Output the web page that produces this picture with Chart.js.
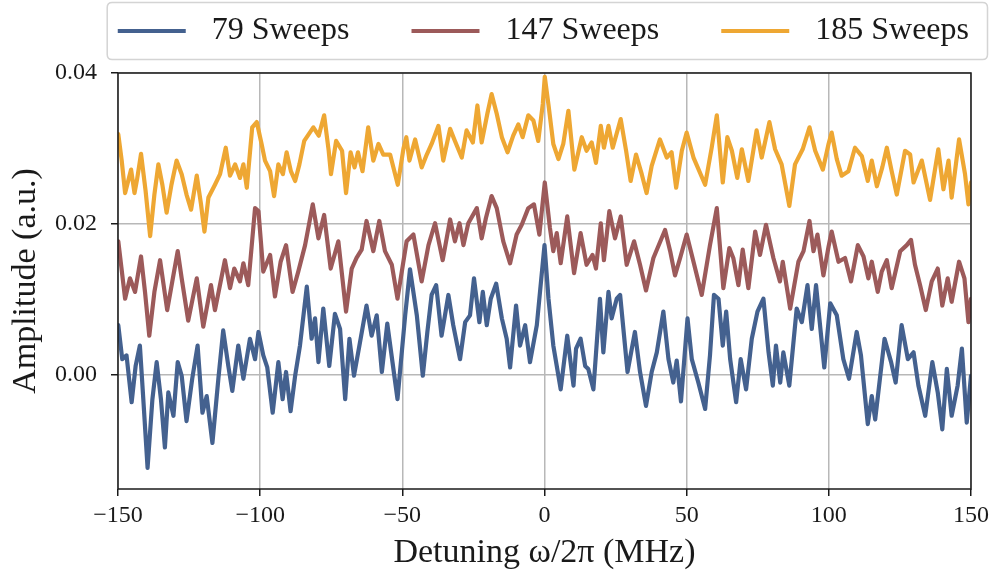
<!DOCTYPE html>
<html>
<head>
<meta charset="utf-8">
<script src="https://cdn.jsdelivr.net/npm/chart.js@4.4.1/dist/chart.umd.min.js"></script>
<style>
html,body{margin:0;padding:0;background:#ffffff;}
#wrap{width:996px;height:573px;position:relative;}
</style>
</head>
<body>
<div id="wrap"><canvas id="c"></canvas></div>
<script>
// ---------------- data ----------------
const SERIES_LABELS = ['79 Sweeps', '147 Sweeps', '185 Sweeps'];
const X_TICKS = [-150, -100, -50, 0, 50, 100, 150];
const Y_TICKS = [0.00, 0.02, 0.04];
const X_RANGE = [-150, 150];
const Y_RANGE = [-0.0151, 0.04];
const X_TITLE = 'Detuning ω/2π (MHz)';
const Y_TITLE = 'Amplitude (a.u.)';

const FREQ_79 = [
  -149.9,-148.5,-147.0,-145.2,-143.8,-142.3,-141.1,-139.6,-137.9,-136.4,-134.9,-133.5,-132.3,-130.5,-129.0,-127.6,-125.9,-123.9,-122.0,-120.3,-118.8,-116.8,-114.7,-113.0,-111.2,-109.8,-107.7,-105.9,-103.6,-101.8,-100.6,
  -98.9,-97.5,-95.6,-93.6,-92.1,-90.9,-89.3,-87.7,-86.0,-83.6,-81.9,-80.7,-79.5,-77.8,-75.7,-73.7,-71.9,-70.1,-68.6,-67.0,-65.1,-62.6,-60.8,-59.0,-57.2,-55.3,-51.7,-49.0,-47.3,
  -44.9,-42.8,-41.2,-39.7,-38.1,-36.2,-33.8,-32.1,-29.7,-27.9,-26.2,-24.8,-22.9,-21.7,-20.3,-18.9,-17.0,-15.0,-13.3,-12.1,-10.0,-8.6,-6.8,-5.1,-2.7,0.0,1.4,
  3.1,5.7,8.0,10.2,11.1,12.7,14.3,15.4,17.2,19.5,20.7,22.5,23.6,25.4,26.6,29.2,31.8,33.6,35.7,37.7,39.5,41.8,43.6,45.3,46.5,48.0,
  50.3,51.8,54.1,56.5,58.2,59.6,61.2,62.7,63.9,65.3,67.4,69.0,70.9,72.9,74.9,77.0,78.8,80.3,81.4,82.9,84.0,86.1,88.7,90.5,92.5,94.0,95.5,98.4,100.5,
  102.8,105.1,107.1,109.8,111.3,113.7,115.1,116.3,119.6,121.9,123.5,125.6,127.8,129.8,131.5,133.9,136.4,138.3,139.9,141.5,143.2,145.3,146.8,148.5,150.0
];
const AMP_79 = [
  0.0066,0.0021,0.0026,-0.0036,0.0012,0.0039,-0.0032,-0.0123,-0.0032,0.0017,-0.0032,-0.0096,-0.0023,-0.0054,0.0017,-0.0001,-0.0061,-0.0005,0.0039,-0.0050,-0.0028,-0.0090,-0.0005,0.0059,0.0012,-0.0021,0.0039,-0.0005,0.0048,0.0021,0.0057,
  0.0026,0.0010,-0.0050,0.0017,-0.0032,0.0004,-0.0048,-0.0001,0.0039,0.0117,0.0048,0.0075,0.0017,0.0088,0.0012,0.0081,0.0061,-0.0032,0.0048,-0.0001,0.0039,0.0092,0.0052,0.0079,0.0004,0.0068,-0.0032,0.0079,0.0140,
  0.0079,-0.0001,0.0057,0.0106,0.0119,0.0052,0.0106,0.0066,0.0021,0.0070,0.0079,0.0128,0.0070,0.0110,0.0066,0.0101,0.0121,0.0075,0.0048,0.0010,0.0092,0.0039,0.0066,0.0017,0.0066,0.0172,0.0101,
  0.0039,-0.0019,0.0052,-0.0014,0.0035,0.0048,0.0012,0.0008,-0.0019,0.0101,0.0030,0.0110,0.0075,0.0101,0.0106,0.0004,0.0057,0.0004,-0.0041,0.0004,0.0030,0.0084,0.0021,-0.0010,0.0019,-0.0035,
  0.0075,0.0021,-0.0010,-0.0045,0.0026,0.0106,0.0101,0.0039,0.0084,0.0021,-0.0036,0.0021,-0.0019,0.0048,0.0084,0.0101,0.0030,-0.0014,0.0039,-0.0010,0.0030,-0.0014,0.0088,0.0070,0.0119,0.0061,0.0119,0.0010,0.0095,
  0.0079,0.0021,-0.0005,0.0057,0.0026,-0.0065,-0.0028,-0.0059,0.0048,0.0017,-0.0010,0.0066,0.0021,0.0030,-0.0014,-0.0054,0.0017,-0.0023,-0.0072,0.0008,-0.0054,-0.0014,0.0035,-0.0063,-0.0001
];

const FREQ_147 = [
  -149.9,-147.5,-145.8,-144.0,-141.9,-140.5,-139.0,-137.2,-135.2,-132.7,-130.9,-129.0,-127.6,-125.3,-122.3,-120.0,-117.3,-115.9,-112.4,-110.6,-109.1,-107.1,-105.9,-104.2,-101.8,-100.6,-98.9,
  -96.5,-94.8,-92.8,-90.9,-88.6,-86.6,-84.2,-81.5,-79.5,-77.5,-75.2,-72.5,-69.8,-67.8,-66.1,-64.3,-62.6,-60.2,-58.1,-56.1,-53.7,-51.7,-48.5,
  -46.1,-43.2,-40.8,-38.5,-35.8,-33.2,-31.5,-29.9,-28.5,-26.8,-23.8,-22.1,-20.6,-18.6,-16.8,-14.5,-12.1,-9.8,-8.0,-5.7,-3.7,-1.8,0.1,
  1.9,3.1,4.3,5.7,8.0,10.4,12.7,14.8,16.9,18.1,19.8,20.9,22.8,24.8,26.8,28.9,31.5,33.6,35.7,38.3,42.4,44.2,45.9,47.7,50.0,
  52.4,55.3,58.2,60.6,62.9,65.0,66.4,68.2,69.7,71.7,74.1,75.8,77.9,80.5,82.8,83.8,86.4,89.3,91.1,93.2,94.6,96.0,98.1,99.9,
  101.0,103.4,105.7,107.8,110.2,112.2,113.9,115.1,117.2,118.6,120.4,122.1,125.1,127.4,128.9,130.3,132.1,134.1,136.2,138.3,139.9,141.8,143.2,145.8,147.7,149.1,150.0
];
const AMP_147 = [
  0.0177,0.0101,0.0128,0.0110,0.0157,0.0110,0.0052,0.0110,0.0152,0.0086,0.0124,0.0164,0.0128,0.0072,0.0128,0.0064,0.0119,0.0086,0.0152,0.0115,0.0141,0.0124,0.0148,0.0119,0.0221,0.0217,0.0137,
  0.0159,0.0104,0.0150,0.0172,0.0110,0.0137,0.0172,0.0226,0.0181,0.0212,0.0141,0.0177,0.0084,0.0141,0.0155,0.0166,0.0204,0.0164,0.0204,0.0164,0.0146,0.0101,0.0177,
  0.0186,0.0124,0.0172,0.0201,0.0152,0.0206,0.0177,0.0201,0.0172,0.0201,0.0221,0.0181,0.0208,0.0237,0.0221,0.0177,0.0148,0.0186,0.0199,0.0221,0.0226,0.0186,0.0255,
  0.0195,0.0164,0.0188,0.0148,0.0210,0.0135,0.0188,0.0146,0.0159,0.0141,0.0201,0.0152,0.0217,0.0181,0.0210,0.0146,0.0177,0.0146,0.0112,0.0155,0.0192,0.0164,0.0132,0.0155,0.0186,
  0.0150,0.0106,0.0172,0.0221,0.0115,0.0168,0.0155,0.0119,0.0166,0.0115,0.0190,0.0159,0.0199,0.0155,0.0124,0.0150,0.0088,0.0150,0.0164,0.0204,0.0164,0.0186,0.0132,0.0170,
  0.0190,0.0150,0.0155,0.0124,0.0172,0.0157,0.0128,0.0150,0.0110,0.0137,0.0152,0.0115,0.0164,0.0172,0.0179,0.0146,0.0119,0.0086,0.0124,0.0141,0.0092,0.0128,0.0097,0.0150,0.0128,0.0070,0.0101
];

const FREQ_185 = [
  -149.9,-148.7,-147.5,-145.4,-144.2,-143.3,-141.9,-140.3,-138.7,-137.2,-135.8,-134.4,-132.9,-131.2,-129.4,-127.6,-125.9,-124.3,-122.3,-120.8,-119.6,-118.2,-115.9,-114.1,-112.1,-110.6,-108.8,-107.1,-105.9,-104.7,-102.8,-101.2,-99.5,
  -98.3,-96.5,-95.1,-93.6,-92.0,-90.7,-89.2,-87.7,-86.2,-84.5,-81.3,-79.4,-77.5,-75.9,-75.1,-73.3,-71.2,-69.8,-68.2,-66.8,-65.6,-64.0,-62.0,-60.2,-58.4,-56.7,-54.3,-51.6,-49.6,-48.6,
  -47.5,-45.5,-43.2,-41.4,-39.7,-37.3,-35.6,-33.2,-31.5,-29.1,-27.4,-25.2,-23.6,-22.1,-20.1,-18.6,-16.8,-15.0,-13.0,-11.0,-9.2,-7.7,-5.7,-3.9,-2.2,-0.6,0.1,1.4,
  3.1,4.9,6.6,8.4,10.5,13.1,14.8,16.6,18.1,19.8,20.9,22.5,24.0,26.8,28.7,30.3,32.2,34.2,35.9,37.7,40.6,43.0,44.7,46.3,48.3,50.0,
  52.4,56.5,58.8,60.6,62.7,64.3,65.9,67.8,69.4,71.7,74.6,76.4,79.1,81.1,83.4,86.1,88.1,90.8,93.2,95.2,97.9,99.9,
  101.0,102.8,104.5,106.9,109.2,111.6,113.7,115.1,116.9,118.8,120.4,122.1,123.9,126.8,128.6,129.8,132.7,135.6,138.5,140.3,142.1,143.2,145.8,147.9,149.1,150.0
];
const AMP_185 = [
  0.0319,0.0284,0.0241,0.0272,0.0241,0.0259,0.0293,0.0244,0.0184,0.0239,0.0279,0.0252,0.0215,0.0252,0.0284,0.0266,0.0239,0.0219,0.0264,0.0226,0.0190,0.0235,0.0252,0.0266,0.0301,0.0264,0.0279,0.0261,0.0279,0.0248,0.0328,0.0335,0.0306,
  0.0284,0.0270,0.0237,0.0279,0.0266,0.0295,0.0270,0.0257,0.0279,0.0310,0.0328,0.0317,0.0344,0.0297,0.0266,0.0310,0.0297,0.0241,0.0295,0.0275,0.0295,0.0270,0.0328,0.0284,0.0306,0.0292,0.0292,0.0252,0.0300,0.0315,
  0.0284,0.0312,0.0275,0.0292,0.0306,0.0330,0.0284,0.0326,0.0310,0.0288,0.0324,0.0308,0.0357,0.0308,0.0346,0.0372,0.0346,0.0315,0.0295,0.0317,0.0332,0.0315,0.0344,0.0337,0.0310,0.0359,0.0395,0.0358,
  0.0306,0.0286,0.0306,0.0350,0.0272,0.0315,0.0297,0.0308,0.0281,0.0330,0.0301,0.0330,0.0301,0.0339,0.0297,0.0257,0.0292,0.0266,0.0241,0.0277,0.0312,0.0288,0.0295,0.0248,0.0297,0.0321,
  0.0288,0.0252,0.0301,0.0344,0.0255,0.0315,0.0297,0.0261,0.0299,0.0257,0.0324,0.0288,0.0335,0.0299,0.0279,0.0224,0.0279,0.0299,0.0328,0.0297,0.0272,0.0306,
  0.0321,0.0286,0.0264,0.0270,0.0301,0.0290,0.0257,0.0284,0.0250,0.0275,0.0301,0.0270,0.0239,0.0297,0.0292,0.0255,0.0284,0.0232,0.0299,0.0246,0.0284,0.0235,0.0312,0.0266,0.0226,0.0255
];

const SERIES_COLORS = ['#44618f', '#9c5a5a', '#eea733'];

// ---------------- chart ----------------
const FONT = "'Liberation Serif', 'Times New Roman', serif";
const TEXT = '#1a1a1a';
const LEG_LEAD = 60;   // blank space before each legend line
const LEG_LINE = 68;   // legend line length
const LEG_TAIL = 10;   // blank after line

function toPoints(xs, ys) {
  const n = Math.min(xs.length, ys.length);
  const out = [];
  for (let i = 0; i < n; i++) out.push({x: xs[i], y: ys[i]});
  return out;
}

function legendLine(color) {
  const c = document.createElement('canvas');
  c.width = LEG_LEAD + LEG_LINE + LEG_TAIL; c.height = 4;
  const g = c.getContext('2d');
  g.fillStyle = color;
  g.fillRect(LEG_LEAD, 0, LEG_LINE, 4);
  return c;
}

const legendFitPlugin = {
  id: 'legendFit',
  beforeLayout(chart) {
    const lg = chart.legend;
    if (lg && !lg.__patched) {
      const orig = lg.fit;
      lg.fit = function () { orig.call(this); this.height = 60; };
      lg.__patched = true;
    }
  }
};

const framePlugin = {
  id: 'frame',
  afterDatasetsDraw(chart) {
    const {ctx, chartArea: a} = chart;
    ctx.save();
    ctx.strokeStyle = TEXT;
    ctx.lineWidth = 1.5;
    ctx.strokeRect(a.left, a.top, a.right - a.left, a.bottom - a.top);
    ctx.restore();
  },
  afterDraw(chart) {
    const lg = chart.legend;
    if (!lg || !lg.legendHitBoxes || !lg.legendHitBoxes.length) return;
    const hb = lg.legendHitBoxes;
    let l = Infinity, r = -Infinity;
    hb.forEach(h => { l = Math.min(l, h.left); r = Math.max(r, h.left + h.width); });
    const cy = hb[0].top + hb[0].height / 2;
    const x0 = l + LEG_LEAD - 10.5, x1 = Math.min(r + 20.5, chart.width - 8.5), y0 = cy - 28.5, y1 = cy + 28.5, rad = 5;
    const ctx = chart.ctx;
    ctx.save();
    ctx.strokeStyle = '#d4d4d4';
    ctx.lineWidth = 1.5;
    ctx.beginPath();
    ctx.moveTo(x0 + rad, y0);
    ctx.lineTo(x1 - rad, y0); ctx.quadraticCurveTo(x1, y0, x1, y0 + rad);
    ctx.lineTo(x1, y1 - rad); ctx.quadraticCurveTo(x1, y1, x1 - rad, y1);
    ctx.lineTo(x0 + rad, y1); ctx.quadraticCurveTo(x0, y1, x0, y1 - rad);
    ctx.lineTo(x0, y0 + rad); ctx.quadraticCurveTo(x0, y0, x0 + rad, y0);
    ctx.stroke();
    ctx.restore();
  }
};

const seriesX = [FREQ_79, FREQ_147, FREQ_185];
const seriesY = [AMP_79, AMP_147, AMP_185];

const datasets = SERIES_LABELS.map((lab, i) => ({
  label: lab,
  data: toPoints(seriesX[i], seriesY[i]),
  borderColor: SERIES_COLORS[i],
  backgroundColor: SERIES_COLORS[i],
  borderWidth: 4.2,
  pointRadius: 0,
  pointHoverRadius: 0,
  tension: 0,
  fill: false,
  borderJoinStyle: 'round',
  borderCapStyle: 'round'
}));

const gridOpts = {
  color: '#b8b8b8',
  lineWidth: 1.5,
  tickColor: TEXT,
  tickLength: 7,
  tickWidth: 1.5,
  drawTicks: true
};

new Chart(document.getElementById('c'), {
  type: 'line',
  data: {datasets},
  plugins: [legendFitPlugin, framePlugin],
  options: {
    responsive: true,
    maintainAspectRatio: false,
    devicePixelRatio: 1,
    animation: false,
    events: [],
    layout: {padding: {top: 13, right: 25, bottom: 0, left: 0}},
    plugins: {
      tooltip: {enabled: false},
      legend: {
        position: 'top',
        fullSize: true,
        align: 'end',
        labels: {
          usePointStyle: true,
          pointStyleWidth: LEG_LEAD + LEG_LINE + LEG_TAIL,
          boxHeight: 4,
          padding: 2,
          color: TEXT,
          font: {family: FONT, size: 32},
          generateLabels(chart) {
            return chart.data.datasets.map((ds, i) => ({
              text: ds.label,
              pointStyle: legendLine(ds.borderColor),
              fillStyle: ds.borderColor,
              strokeStyle: ds.borderColor,
              lineWidth: 0,
              fontColor: TEXT,
              hidden: !chart.isDatasetVisible(i),
              datasetIndex: i
            }));
          }
        }
      }
    },
    scales: {
      x: {
        type: 'linear',
        min: X_RANGE[0],
        max: X_RANGE[1],
        afterFit(s) { s.height = 84; },
        afterBuildTicks(s) { s.ticks = X_TICKS.map(v => ({value: v})); },
        ticks: {
          callback: v => String(v).replace('-', '\u2212'),
          font: {family: FONT, size: 24},
          color: TEXT,
          padding: 5,
          maxRotation: 0,
          autoSkip: false
        },
        grid: gridOpts,
        border: {display: false},
        title: {display: true, text: X_TITLE, color: TEXT, font: {family: FONT, size: 34}, padding: {top: 0, bottom: 0}}
      },
      y: {
        type: 'linear',
        min: Y_RANGE[0],
        max: Y_RANGE[1],
        afterFit(s) { s.width = 118; },
        afterBuildTicks(s) { s.ticks = Y_TICKS.map(v => ({value: v})); },
        ticks: {
          callback: v => Number(v).toFixed(2),
          font: {family: FONT, size: 24},
          color: TEXT,
          padding: 14,
          autoSkip: false
        },
        grid: gridOpts,
        border: {display: false},
        title: {display: true, text: Y_TITLE, color: TEXT, font: {family: FONT, size: 34}, padding: {top: 6, bottom: 0}}
      }
    }
  }
});
</script>
</body>
</html>
